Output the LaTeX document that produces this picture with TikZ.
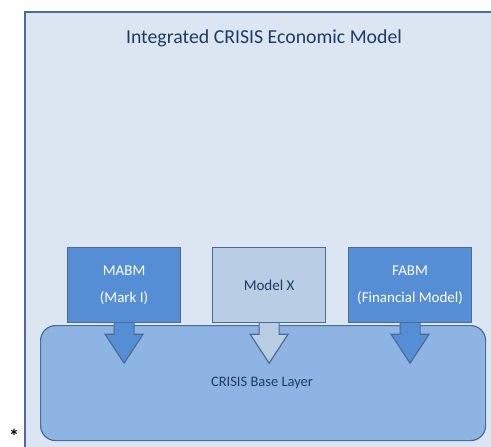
\documentclass[tikz,border=0pt]{standalone}
\usepackage{fontspec}
\setmainfont{Carlito}
\begin{document}
\definecolor{panelfill}{HTML}{DCE6F2}
\definecolor{edgeblue}{HTML}{4A6C96}
\definecolor{deepfill}{HTML}{558ED5}
\definecolor{palefill}{HTML}{B9CDE5}
\definecolor{basefill}{HTML}{8EB4E3}
\definecolor{inktext}{HTML}{1F3B63}
\begin{tikzpicture}[x=1pt,y=-1pt,
  panel/.style={draw=edgeblue,line width=1.4pt,fill=panelfill},
  modelbox/.style={draw=edgeblue,line width=1.2pt,minimum width=113pt,minimum height=75pt,
    anchor=north west,inner sep=0pt,align=center,font=\fontsize{15}{27}\selectfont},
  deepbox/.style={modelbox,fill=deepfill,text=white},
  palebox/.style={modelbox,fill=palefill,text=inktext},
  baselayer/.style={draw=edgeblue,line width=1.2pt,fill=basefill,rounded corners=15pt,
    minimum width=445pt,minimum height=115pt,anchor=north west,inner sep=0pt},
  blockarrow/.style={draw=edgeblue,line width=1.2pt,line join=miter}]
\useasboundingbox (0,0) rectangle (491,447);
\clip (0,0) rectangle (491,447);
% outer panel, running off the right and bottom edges
\draw[panel] (25,12) rectangle (500,460);
\node[text=inktext,font=\fontsize{19.8}{24}\selectfont] (title) at (264,38) {Integrated CRISIS Economic Model};
% base layer
\node[baselayer] (base) at (40,325) {};
\node[text=inktext,font=\fontsize{14.5}{18}\selectfont] (baselabel) at (262,383) {CRISIS Base Layer};
% model boxes
\node[deepbox] (mabm) at (67,247) {MABM\\(Mark I)};
\node[palebox] (modelx) at (212,247) {Model X};
\node[deepbox,minimum width=123pt] (fabm) at (348,247) {FABM\\(Financial Model)};
% block arrows from each model into the base layer
\foreach \b/\f in {mabm/deepfill, modelx/palefill, fabm/deepfill}{
  \draw[blockarrow,fill=\f] (\b.south) ++(-10,0) -- ++(0,11) -- ++(-9,0)
    -- ++(19,29) -- ++(19,-29) -- ++(-9,0) -- ++(0,-11);
}
\node[font=\fontsize{20}{20}\selectfont\bfseries,inner sep=1pt] (star) at (14,436) {*};
\end{tikzpicture}
\end{document}
